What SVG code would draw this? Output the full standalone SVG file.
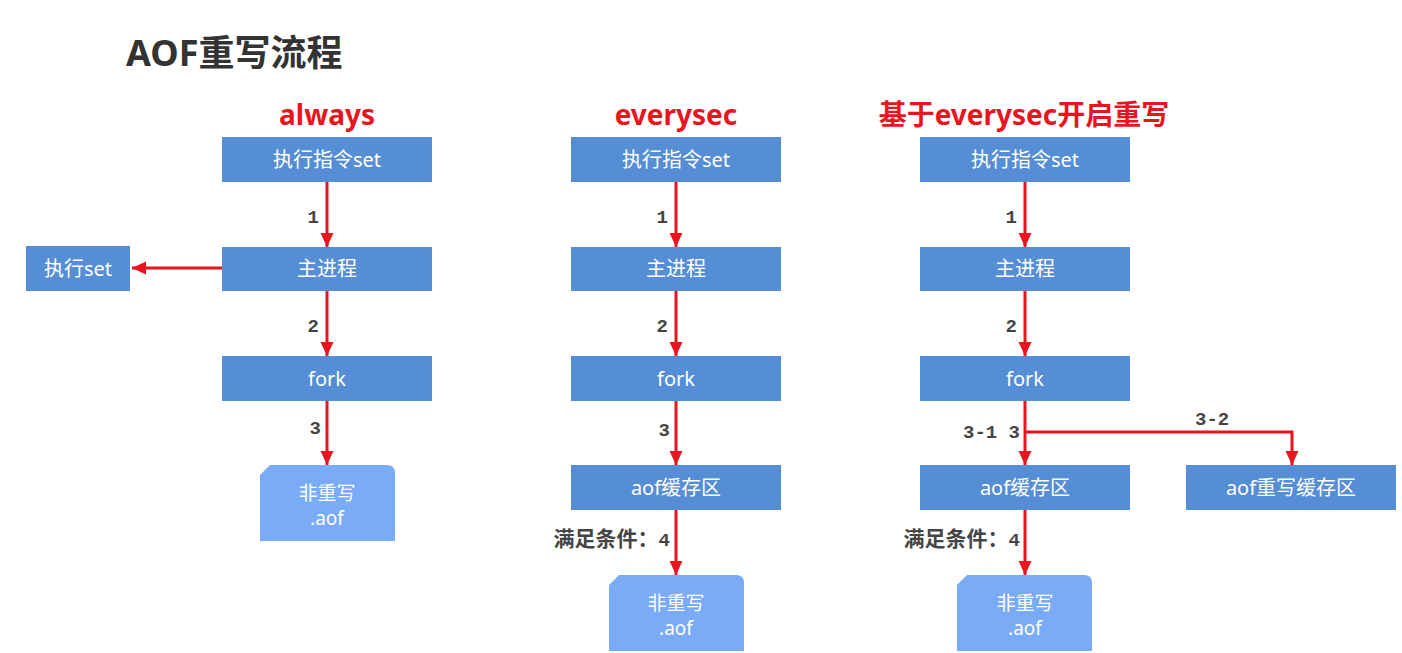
<svg xmlns="http://www.w3.org/2000/svg" width="1402" height="653" viewBox="0 0 1402 653">
<defs>
<style>
.box{fill:#558ED5}
.file{fill:#79ABF7}
.bt{fill:#fff;font-family:"Noto Sans","Noto Sans CJK SC",sans-serif;font-size:20px;text-anchor:middle}
.ft{fill:#fff;font-family:"Noto Sans","Noto Sans CJK SC",sans-serif;font-size:19px;text-anchor:middle}
.hd{fill:#E8141E;font-family:"Noto Sans","Noto Sans CJK SC",sans-serif;font-size:28px;font-weight:bold;text-anchor:middle}
.lb{fill:#454545;font-family:"Liberation Mono","Noto Sans CJK SC",monospace;font-size:19px;font-weight:bold}
.ln{stroke:#E8141E;stroke-width:3;fill:none}
</style>
<marker id="ah" markerUnits="userSpaceOnUse" markerWidth="14" markerHeight="14" viewBox="0 0 14 14" refX="14" refY="7" orient="auto">
<path d="M0,0.5 L14,7 L0,13.5 Z" fill="#E8141E"/>
</marker>
</defs>
<rect width="1402" height="653" fill="#fff"/>
<text x="126" y="66" font-family="Noto Sans,Noto Sans CJK SC,sans-serif" font-size="36" font-weight="bold" fill="#333">AOF重写流程</text>
<text class="hd" x="327" y="125">always</text>
<text class="hd" x="676" y="125">everysec</text>
<text class="hd" x="1024" y="125">基于everysec开启重写</text>

<g id="connectors">
<line class="ln" x1="327" y1="182" x2="327" y2="247" marker-end="url(#ah)"/>
<line class="ln" x1="327" y1="291" x2="327" y2="356" marker-end="url(#ah)"/>
<line class="ln" x1="327" y1="401" x2="327" y2="465" marker-end="url(#ah)"/>
<line class="ln" x1="222" y1="268" x2="132" y2="268" marker-end="url(#ah)"/>
<line class="ln" x1="676" y1="182" x2="676" y2="247" marker-end="url(#ah)"/>
<line class="ln" x1="676" y1="291" x2="676" y2="356" marker-end="url(#ah)"/>
<line class="ln" x1="676" y1="401" x2="676" y2="465" marker-end="url(#ah)"/>
<line class="ln" x1="676" y1="510" x2="676" y2="575" marker-end="url(#ah)"/>
<line class="ln" x1="1025" y1="182" x2="1025" y2="247" marker-end="url(#ah)"/>
<line class="ln" x1="1025" y1="291" x2="1025" y2="356" marker-end="url(#ah)"/>
<line class="ln" x1="1025" y1="401" x2="1025" y2="465" marker-end="url(#ah)"/>
<polyline class="ln" points="1025,432 1292,432 1292,465" marker-end="url(#ah)"/>
<line class="ln" x1="1025" y1="510" x2="1025" y2="575" marker-end="url(#ah)"/>
<text class="lb" x="319" y="223" text-anchor="end">1</text>
<text class="lb" x="319" y="332" text-anchor="end">2</text>
<text class="lb" x="321" y="434" text-anchor="end">3</text>
<text class="lb" x="668" y="223" text-anchor="end">1</text>
<text class="lb" x="668" y="332" text-anchor="end">2</text>
<text class="lb" x="670" y="436" text-anchor="end">3</text>
<text class="lb" x="670" y="546" text-anchor="end"><tspan font-size="21">满足条件：</tspan>4</text>
<text class="lb" x="1017" y="223" text-anchor="end">1</text>
<text class="lb" x="1017" y="332" text-anchor="end">2</text>
<text class="lb" x="1020" y="438" text-anchor="end">3-1 3</text>
<text class="lb" x="1195" y="425">3-2</text>
<text class="lb" x="1020" y="546" text-anchor="end"><tspan font-size="21">满足条件：</tspan>4</text>
</g>

<g id="a-cmd"><rect class="box" x="222" y="137" width="210" height="45"/><text class="bt" x="327" y="167">执行指令set</text></g>
<g id="a-main"><rect class="box" x="222" y="247" width="210" height="44"/><text class="bt" x="327" y="276">主进程</text></g>
<g id="a-exec"><rect class="box" x="26" y="246" width="104" height="45"/><text class="bt" x="78" y="276">执行set</text></g>
<g id="a-fork"><rect class="box" x="222" y="356" width="210" height="45"/><text class="bt" x="327" y="386">fork</text></g>
<g id="a-file"><path class="file" d="M260,475 L270,465 L387,465 Q395,465 395,473 L395,541 L260,541 Z"/><text class="ft" x="327" y="500">非重写</text><text class="ft" x="327" y="525">.aof</text></g>

<g id="b-cmd"><rect class="box" x="571" y="137" width="210" height="45"/><text class="bt" x="676" y="167">执行指令set</text></g>
<g id="b-main"><rect class="box" x="571" y="247" width="210" height="44"/><text class="bt" x="676" y="276">主进程</text></g>
<g id="b-fork"><rect class="box" x="571" y="356" width="210" height="45"/><text class="bt" x="676" y="386">fork</text></g>
<g id="b-buf"><rect class="box" x="571" y="465" width="210" height="45"/><text class="bt" x="676" y="495">aof缓存区</text></g>
<g id="b-file"><path class="file" d="M609,585 L619,575 L736,575 Q744,575 744,583 L744,651 L609,651 Z"/><text class="ft" x="676" y="610">非重写</text><text class="ft" x="676" y="635">.aof</text></g>

<g id="c-cmd"><rect class="box" x="920" y="137" width="210" height="45"/><text class="bt" x="1025" y="167">执行指令set</text></g>
<g id="c-main"><rect class="box" x="920" y="247" width="210" height="44"/><text class="bt" x="1025" y="276">主进程</text></g>
<g id="c-fork"><rect class="box" x="920" y="356" width="210" height="45"/><text class="bt" x="1025" y="386">fork</text></g>
<g id="c-buf"><rect class="box" x="920" y="465" width="210" height="45"/><text class="bt" x="1025" y="495">aof缓存区</text></g>
<g id="c-rbuf"><rect class="box" x="1186" y="465" width="210" height="45"/><text class="bt" x="1291" y="495">aof重写缓存区</text></g>
<g id="c-file"><path class="file" d="M957,585 L967,575 L1084,575 Q1092,575 1092,583 L1092,651 L957,651 Z"/><text class="ft" x="1025" y="610">非重写</text><text class="ft" x="1025" y="635">.aof</text></g>
</svg>
